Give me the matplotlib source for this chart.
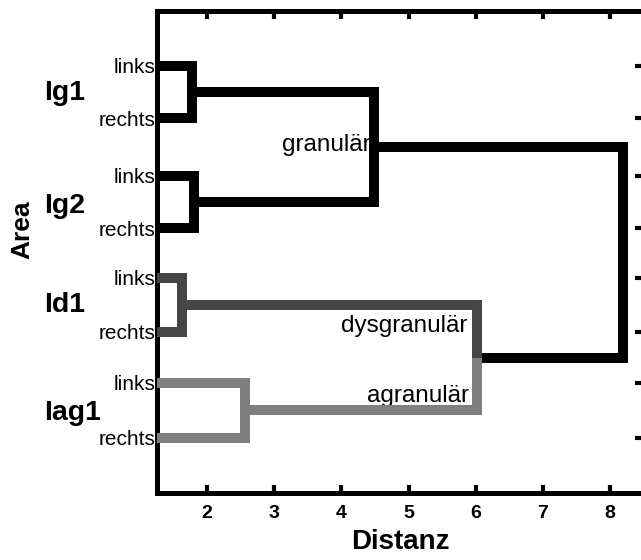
import matplotlib
matplotlib.use("Agg")
import matplotlib.pyplot as plt

plt.rcParams["font.family"] = ["Liberation Sans", "DejaVu Sans"]

# leaves (top to bottom) and their labels
leaf_y = [1.07, 2.05, 3.12, 4.10, 5.02, 6.03, 6.98, 8.0]
leaf_labels = ["links", "rechts"] * 4
groups = ["Ig1", "Ig2", "Id1", "Iag1"]
group_baseline = [1.71, 3.81, 5.66, 7.67]

# merge distances
pair_merge = [1.78, 1.80, 1.63, 2.57]
granular_merge = 4.48
dys_ag_merge = 6.02
root_merge = 8.19

pair_colors = ["black", "black", "#454545", "#7f7f7f"]
x_ticks = [2, 3, 4, 5, 6, 7, 8]

LW = 7.2


def branch(ax, xs, ys, color, z=3):
    ax.plot(xs, ys, color=color, lw=LW, solid_joinstyle="miter",
            solid_capstyle="butt", zorder=z)


fig = plt.figure(figsize=(6.41, 5.6), dpi=100)
ax = fig.add_axes([157 / 641, 1 - 493 / 560, (643 - 157) / 641, (493 - 11) / 560])

# pairs links/rechts
centers = []
for i in range(4):
    ya, yb = leaf_y[2 * i], leaf_y[2 * i + 1]
    m = pair_merge[i]
    branch(ax, [0, m, m, 0], [ya, ya, yb, yb], pair_colors[i])
    centers.append((ya + yb) / 2)

# granular cluster
cg = (centers[0] + centers[1]) / 2
branch(ax, [pair_merge[0], granular_merge, granular_merge, pair_merge[1]],
       [centers[0], centers[0], centers[1], centers[1]], "black")

# dysgranular / agranular
cd = (centers[2] + centers[3]) / 2
branch(ax, [pair_merge[2], dys_ag_merge, dys_ag_merge],
       [centers[2], centers[2], cd], pair_colors[2], z=4)
branch(ax, [pair_merge[3], dys_ag_merge, dys_ag_merge],
       [centers[3], centers[3], cd], pair_colors[3], z=4)

# root
branch(ax, [dys_ag_merge, root_merge, root_merge, granular_merge],
       [cd, cd, cg, cg], "black", z=2)

# cluster names
ax.text(granular_merge - 0.04, cg - 0.04, "granulär", ha="right", va="center",
        fontsize=17.5, zorder=5)
ax.text(5.88, 5.92, "dysgranulär", ha="right", va="center", fontsize=17.5)
ax.text(5.90, 7.22, "agranulär", ha="right", va="center", fontsize=17.5)

# group names left of the axis
for g, yb in zip(groups, group_baseline):
    ax.text(-0.232, yb, g, transform=ax.get_yaxis_transform(), ha="left",
            va="baseline", fontsize=20.5, fontweight="bold")

ax.set_xlim(1.254, 8.49)
ax.set_ylim(9.03, 0.05)

ax.set_xticks(x_ticks)
ax.set_xticklabels([str(t) for t in x_ticks], fontweight="bold", fontsize=14)
ax.set_yticks(leaf_y)
ax.set_yticklabels(leaf_labels, fontsize=15)

ax.tick_params(axis="x", direction="in", length=6, width=3, top=True,
               pad=9)
ax.tick_params(axis="y", direction="in", length=6, width=3, right=True,
               left=True, pad=1)
for t in ax.yaxis.get_major_ticks():
    t.tick1line.set_markersize(0)

for s in ax.spines.values():
    s.set_linewidth(3.6)

ax.set_xlabel("Distanz", fontsize=20, fontweight="bold", labelpad=5)
fig.text(22 / 641, 1 - 230 / 560, "Area", rotation=90, ha="center",
         va="center", fontsize=19, fontweight="bold")

fig.savefig("out.png", dpi=100)
